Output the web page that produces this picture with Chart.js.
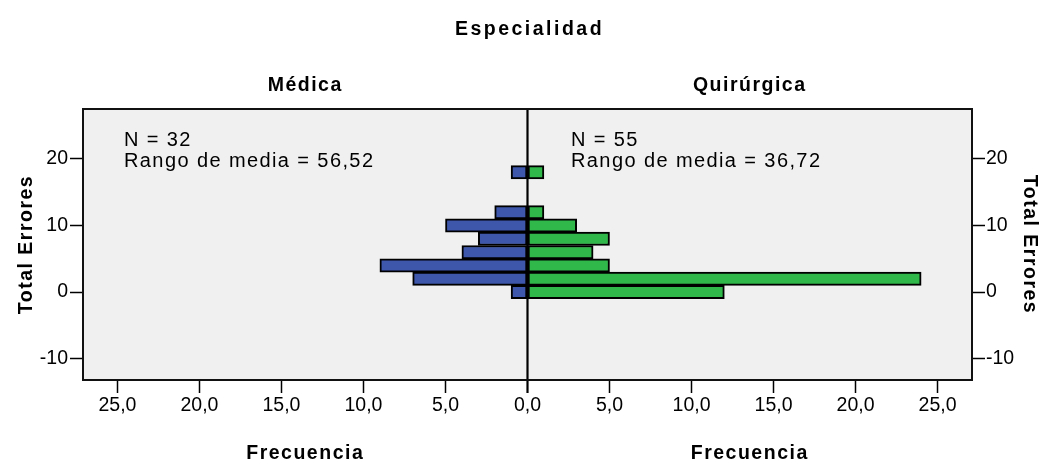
<!DOCTYPE html>
<html>
<head>
<meta charset="utf-8">
<script src="https://cdn.jsdelivr.net/npm/chart.js@4/dist/chart.umd.min.js"></script>
<style>
  html, body { margin: 0; padding: 0; background: #ffffff; }
  #wrap { width: 1043px; height: 464px; position: relative; }
</style>
</head>
<body>
<div id="wrap"><canvas id="c" width="1043" height="464"></canvas></div>
<script>
// ---- data ----
const bins = [0, 2, 4, 6, 8, 10, 12, 14, 16, 18];
const medica = [1, 7, 9, 4, 3, 5, 2, 0, 0, 1];
const quirurgica = [12, 24, 5, 4, 5, 3, 1, 0, 0, 1];
const xTicks = [-25, -20, -15, -10, -5, 0, 5, 10, 15, 20, 25];
const yTicks = [-10, 0, 10, 20];
const mainTitle = 'Especialidad';
const panelLabels = ['Médica', 'Quirúrgica'];
const panelNotes = [['N = 32', 'Rango de media = 56,52'], ['N = 55', 'Rango de media = 36,72']];
const xTitle = 'Frecuencia';
const yTitle = 'Total Errores';

const FONT = "'Liberation Sans', Arial, sans-serif";

const textPlugin = {
  id: 'pyramidDecor',
  beforeDraw(chart) {
    const { ctx, chartArea: a } = chart;
    ctx.save();
    ctx.fillStyle = '#f0f0f0';
    ctx.fillRect(a.left, a.top, a.right - a.left, a.bottom - a.top);
    ctx.restore();
  },
  afterDatasetsDraw(chart) {
    const { ctx, chartArea: a, scales } = chart;
    const x0 = scales.x.getPixelForValue(0);
    ctx.save();
    ctx.strokeStyle = '#000';
    ctx.lineWidth = 2.2;
    ctx.beginPath();
    ctx.moveTo(x0, a.top);
    ctx.lineTo(x0, a.bottom);
    ctx.stroke();
    ctx.strokeStyle = '#111';
    ctx.lineWidth = 2;
    ctx.strokeRect(a.left, a.top, a.right - a.left, a.bottom - a.top);
    ctx.restore();
  },
  afterDraw(chart) {
    const { ctx, chartArea: a, scales } = chart;
    const x0 = scales.x.getPixelForValue(0);
    const centers = [(a.left + x0) / 2, (x0 + a.right) / 2];
    ctx.save();
    ctx.fillStyle = '#000';
    ctx.textAlign = 'center';
    ctx.textBaseline = 'alphabetic';
    ctx.font = 'bold 19.5px ' + FONT;
    ctx.letterSpacing = '2.5px';
    ctx.fillText(mainTitle, (a.left + a.right) / 2 + 2, 35);
    ctx.letterSpacing = '1.5px';
    centers.forEach((cx, i) => {
      ctx.fillText(panelLabels[i], cx, 91);
      ctx.fillText(xTitle, cx, 459);
    });
    const cy = (a.top + a.bottom) / 2;
    ctx.save();
    ctx.translate(32, cy);
    ctx.rotate(-Math.PI / 2);
    ctx.fillText(yTitle, 0, 0);
    ctx.restore();
    ctx.save();
    ctx.translate(1024, cy);
    ctx.rotate(Math.PI / 2);
    ctx.fillText(yTitle, 0, 0);
    ctx.restore();
    ctx.font = '20px ' + FONT;
    ctx.letterSpacing = '1.4px';
    ctx.textAlign = 'left';
    const noteX = [124, 571];
    panelNotes.forEach((lines, i) => {
      ctx.fillText(lines[0], noteX[i], 146);
      ctx.fillText(lines[1], noteX[i], 167);
    });
    ctx.restore();
  }
};

const fmt = v => Math.abs(v).toFixed(1).replace('.', ',');

new Chart(document.getElementById('c'), {
  type: 'bar',
  data: {
    datasets: [
      {
        label: panelLabels[0],
        data: bins.map((b, i) => ({ x: -medica[i], y: b })),
        backgroundColor: '#3e57ab',
        borderColor: '#000',
        borderWidth: 2,
        borderSkipped: false,
        barPercentage: 1,
        categoryPercentage: 1
      },
      {
        label: panelLabels[1],
        data: bins.map((b, i) => ({ x: quirurgica[i], y: b })),
        backgroundColor: '#30b84a',
        borderColor: '#000',
        borderWidth: 2,
        borderSkipped: false,
        barPercentage: 1,
        categoryPercentage: 1
      }
    ]
  },
  options: {
    indexAxis: 'y',
    responsive: false,
    animation: false,
    layout: { padding: { top: 109, left: 0, right: 0, bottom: 0 } },
    plugins: { legend: { display: false }, tooltip: { enabled: false }, title: { display: false } },
    scales: {
      x: {
        type: 'linear',
        stacked: true,
        min: -27.1,
        max: 27.1,
        offset: false,
        afterBuildTicks: s => { s.ticks = xTicks.map(v => ({ value: v })); },
        afterFit: s => { s.height = 84; },
        border: { display: false },
        grid: {
          offset: false,
          drawOnChartArea: false,
          drawTicks: true,
          tickLength: 13,
          tickColor: '#000',
          tickWidth: c => (c.tick && c.tick.value === 0 ? 2.2 : 1.5)
        },
        ticks: {
          autoSkip: false,
          maxRotation: 0,
          padding: 1,
          color: '#000',
          font: { family: FONT, size: 19.5 },
          callback: v => fmt(v)
        }
      },
      y: {
        type: 'linear',
        position: 'left',
        stacked: true,
        offset: false,
        min: -13.2,
        max: 27.5,
        afterBuildTicks: s => { s.ticks = yTicks.map(v => ({ value: v })); },
        afterFit: s => { s.width = 83; },
        border: { display: false },
        grid: { offset: false, drawOnChartArea: false, tickLength: 13, tickColor: '#000', tickWidth: 1.5 },
        ticks: { padding: 2, color: '#000', font: { family: FONT, size: 19.5 }, callback: v => String(v) }
      },
      y2: {
        type: 'linear',
        position: 'right',
        offset: false,
        min: -13.2,
        max: 27.5,
        afterBuildTicks: s => { s.ticks = yTicks.map(v => ({ value: v })); },
        afterFit: s => { s.width = 71; },
        border: { display: false },
        grid: { offset: false, drawOnChartArea: false, tickLength: 13, tickColor: '#000', tickWidth: 1.5 },
        ticks: { padding: 1, color: '#000', font: { family: FONT, size: 19.5 }, callback: v => String(v) }
      }
    }
  },
  plugins: [textPlugin]
});
</script>
</body>
</html>
